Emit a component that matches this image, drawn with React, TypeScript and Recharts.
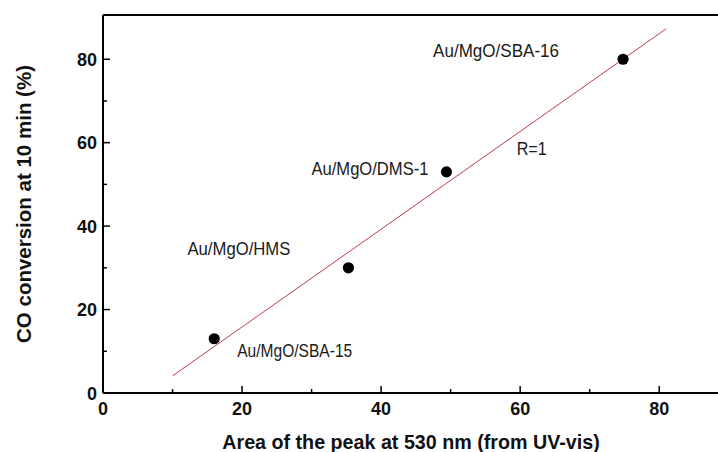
import { ScatterChart, Scatter, XAxis, YAxis, ReferenceLine } from 'recharts'

// Catalyst points: area of the 530 nm band vs CO conversion after 10 min
const sampleNames = ['Au/MgO/SBA-15', 'Au/MgO/HMS', 'Au/MgO/DMS-1', 'Au/MgO/SBA-16']
const peakArea = [16, 35.3, 49.4, 74.8]
const conversion = [13, 30, 53, 80]

// Linear fit end points
const fitArea = [10, 81]
const fitConversion = [4.1, 87.3]

const noteText = ['R=1']
const noteArea = [59.5]
const noteConversion = [57]

const xTicks = [0, 10, 20, 30, 40, 50, 60, 70, 80]
const yTicks = [0, 10, 20, 30, 40, 50, 60, 70, 80]
const X_MAX = 88.6
const Y_MAX = 90.6

const points = sampleNames.map((name, i) => ({ name, x: peakArea[i], y: conversion[i] }))
const fitLine = fitArea.map((x, i) => ({ x, y: fitConversion[i] }))
const notes = noteText.map((text, i) => ({ name: text, x: noteArea[i], y: noteConversion[i] }))

// label placement relative to each dot: start offset, baseline offset, drawn width
const labelPlacement: Record<string, { dx: number; dy: number; w: number }> = {
    'Au/MgO/SBA-15': { dx: 23, dy: 18, w: 115 },
    'Au/MgO/HMS': { dx: -161, dy: -12.5, w: 103 },
    'Au/MgO/DMS-1': { dx: -135, dy: 2.7, w: 117 },
    'Au/MgO/SBA-16': { dx: -190, dy: -2.7, w: 126 },
    'R=1': { dx: 0, dy: 0, w: 30 },
}

const FONT = '"Liberation Sans", Arial, Helvetica, sans-serif'

const NoteText = ({ x, y, name }: { x: number; y: number; name: string }) => {
    const p = labelPlacement[name]
    return (
        <text
            x={x + p.dx}
            y={y + p.dy}
            fontSize={18}
            fill="#1a1a1a"
            fontFamily={FONT}
            textLength={p.w}
            lengthAdjust="spacingAndGlyphs"
        >
            {name}
        </text>
    )
}

const SampleDot = (props: any) => {
    const { cx, cy, payload } = props
    return (
        <g>
            <circle cx={cx} cy={cy} r={5.6} fill="#000" />
            <NoteText x={cx} y={cy} name={payload.name} />
        </g>
    )
}

const NoteShape = (props: any) => {
    const { cx, cy, payload } = props
    return <NoteText x={cx} y={cy} name={payload.name} />
}

// inward ticks, labels only on every second one
const XTick = (props: any) => {
    const { x, y, payload } = props
    const major = payload.value % 20 === 0
    return (
        <g>
            <line x1={x} y1={y} x2={x} y2={y - (major ? 7 : 4)} stroke="#000" strokeWidth={1.5} />
            {major && (
                <text x={x} y={y + 22} textAnchor="middle" fontSize={18} fontWeight={700} fill="#111" fontFamily={FONT}>
                    {payload.value}
                </text>
            )}
        </g>
    )
}

const YTick = (props: any) => {
    const { x, y, payload } = props
    const major = payload.value % 20 === 0
    return (
        <g>
            <line x1={x} y1={y} x2={x + (major ? 7 : 4)} y2={y} stroke="#000" strokeWidth={1.5} />
            {major && (
                <text x={x - 6} y={y + 6.5} textAnchor="end" fontSize={18} fontWeight={700} fill="#111" fontFamily={FONT}>
                    {payload.value}
                </text>
            )}
        </g>
    )
}

export default function App() {
    return (
        <div style={{ position: 'absolute', left: 0, top: 0, width: 718, height: 452, overflow: 'hidden', background: '#fff' }}>
            <ScatterChart
                width={730}
                height={452}
                margin={{ top: 15, right: 11, bottom: 0, left: 0 }}
                style={{ fontFamily: FONT }}
            >
                <XAxis
                    type="number"
                    dataKey="x"
                    domain={[0, X_MAX]}
                    ticks={xTicks}
                    interval={0}
                    height={59}
                    tickSize={0}
                    tickMargin={0}
                    tickLine={false}
                    tick={<XTick />}
                    axisLine={{ stroke: '#000', strokeWidth: 2 }}
                    label={{
                        value: 'Area of the peak at 530 nm (from UV-vis)',
                        position: 'insideBottom',
                        offset: 3,
                        style: { fontSize: 19.7, fontWeight: 700, fill: '#111', fontFamily: FONT },
                    }}
                />
                <YAxis
                    type="number"
                    dataKey="y"
                    domain={[0, Y_MAX]}
                    ticks={yTicks}
                    interval={0}
                    width={103}
                    tickSize={0}
                    tickMargin={0}
                    tickLine={false}
                    tick={<YTick />}
                    axisLine={{ stroke: '#000', strokeWidth: 2 }}
                    label={{
                        value: 'CO conversion at 10 min (%)',
                        angle: -90,
                        position: 'insideLeft',
                        offset: 24,
                        style: { fontSize: 20.5, fontWeight: 700, fill: '#111', textAnchor: 'middle', fontFamily: FONT },
                    }}
                />
                <ReferenceLine y={Y_MAX} stroke="#000" strokeWidth={2} />
                <Scatter
                    data={fitLine}
                    line={{ stroke: '#c23a48', strokeWidth: 1 }}
                    shape={() => null}
                    isAnimationActive={false}
                />
                <Scatter data={points} shape={<SampleDot />} isAnimationActive={false} />
                <Scatter data={notes} shape={<NoteShape />} isAnimationActive={false} />
            </ScatterChart>
        </div>
    )
}
